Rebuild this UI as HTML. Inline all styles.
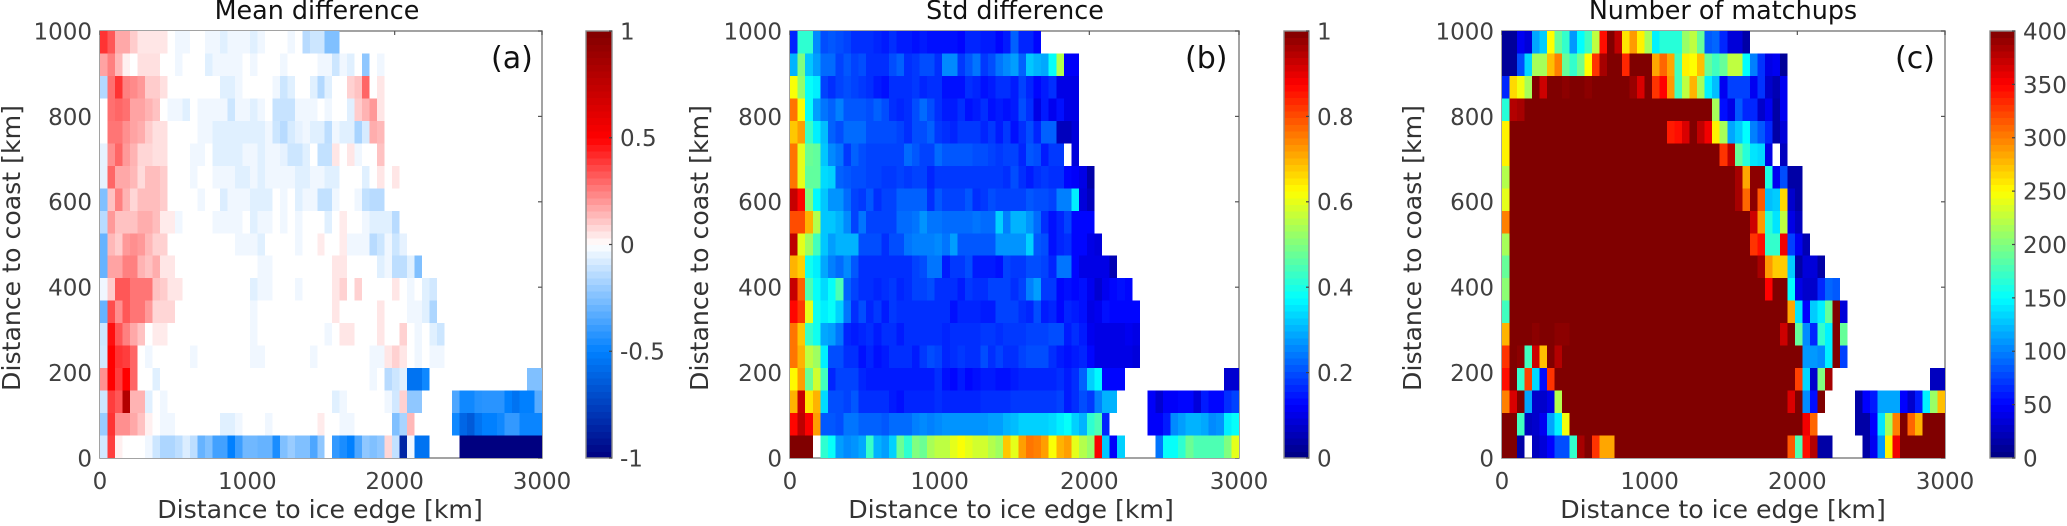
<!DOCTYPE html>
<html lang="en">
<head>
<meta charset="utf-8">
<title>Mean difference, std difference and number of matchups</title>
<style>
html,body{margin:0;padding:0;background:#fff;}
svg{display:block;}
text{font-family:"DejaVu Sans","Liberation Sans",sans-serif;}
.tick{font-size:23px;fill:#404040;}
.lab{font-size:25.2px;fill:#333;text-anchor:middle;}
.ttl{font-size:25.4px;fill:#111;text-anchor:middle;}
.tag{font-size:30px;fill:#111;}
</style>
</head>
<body>
<svg id="fig" xmlns="http://www.w3.org/2000/svg" width="2067" height="526" viewBox="0 0 2067 526">
  <rect x="0" y="0" width="2067" height="526" fill="#fff"/>
  <g id="pa"></g>
  <g id="pb"></g>
  <g id="pc"></g>
  <text class="ttl" x="317" y="19">Mean difference</text>
  <text class="ttl" x="1015" y="19">Std difference</text>
  <text class="ttl" x="1723" y="19">Number of matchups</text>
  <text class="tag" x="491" y="68">(a)</text>
  <text class="tag" x="1185" y="68">(b)</text>
  <text class="tag" x="1895" y="68">(c)</text>
  <text class="lab" x="320" y="518">Distance to ice edge [km]</text>
  <text class="lab" x="1011" y="518">Distance to ice edge [km]</text>
  <text class="lab" x="1723" y="518">Distance to ice edge [km]</text>
  <text class="lab" transform="translate(20,248) rotate(-90)">Distance to coast [km]</text>
  <text class="lab" transform="translate(708,248) rotate(-90)">Distance to coast [km]</text>
  <text class="lab" transform="translate(1421,248) rotate(-90)">Distance to coast [km]</text>
</svg>
<script>
const _ = null;
const xTicks = [0, 1000, 2000, 3000];
const yTicks = [0, 200, 400, 600, 800, 1000];
const xMax = 3000;
const yMax = 1000;
const cbarTicksA = [-1, -0.5, 0, 0.5, 1];
const cbarTicksB = [0, 0.2, 0.4, 0.6, 0.8, 1];
const cbarTicksC = [0, 50, 100, 150, 200, 250, 300, 350, 400];
/* Rows run from the top of each panel (farthest from coast) down to 0 km. Missing trailing cells are empty bins. */
const meanDiffRows = [
[.4,.33,.17,.17,.1,.05,.05,.05,.05,0, -.03,-.03,0,0,-.03,-.03,-.06,-.03,-.03,-.03, -.06,-.03,0,0,0,-.03,0,-.14,-.1,-.1, -.25,-.25],
[.18,.25,.14,.03,0,.06,.06,.06,0,0, -.03,0,0,0,-.06,-.03,-.03,-.03,-.03,0, -.03,0,0,0,-.03,0,0,0,0,-.03, -.03,-.1,-.03,-.06,0,-.22,0,-.03],
[-.15,.28,.4,.25,.23,.2,.1,.1,.06,0, 0,0,0,0,0,0,-.06,-.06,-.03,0, 0,0,0,-.03,-.1,-.06,0,0,-.06,-.15, -.06,0,0,.09,.12,.3,0,.05],
[0,.28,.3,.28,.18,.18,.15,.12,0,-.03, -.03,-.06,0,-.03,-.03,-.03,-.03,-.1,-.03,-.03, -.06,-.03,0,-.11,-.11,-.11,-.03,-.03,-.03,0, -.03,0,0,-.06,.1,.15,.2,.05],
[0,.27,.27,.22,.18,.16,.1,.06,.06,0, 0,0,0,-.03,-.03,-.06,-.06,-.06,-.06,-.06, -.06,-.06,-.03,-.1,-.14,-.08,-.05,-.03,-.06,-.06, -.13,-.03,-.06,-.06,-.17,-.08,.16,.14],
[-.05,.22,.3,.2,.15,.08,.08,.06,.06,0, 0,0,-.03,-.03,0,-.06,-.06,-.06,-.06,-.03, -.03,-.06,-.03,-.03,-.05,-.1,-.1,-.06,0,-.12, -.12,.05,0,.05,-.03,0,0,.12],
[-.05,.3,.17,.17,.14,.07,.13,.13,.1,0, 0,0,-.03,0,0,-.03,-.03,-.03,-.06,-.06, -.03,-.06,-.03,-.03,-.03,-.03,-.06,-.06,-.03,-.03, -.06,-.06,0,0,0,-.06,0,.05,0,.05],
[-.25,.12,.25,.15,.08,.13,.13,.13,.1,0, 0,0,0,-.03,0,0,-.07,-.03,-.03,-.03, -.06,-.06,-.06,0,-.03,0,-.06,-.03,-.03,-.12, -.12,-.03,0,0,-.03,-.12,-.14,-.14],
[-.14,.2,.12,.12,.12,.16,.16,.13,.04,.04, -.03,0,0,0,0,-.03,-.03,-.03,-.03,0, -.06,-.03,-.03,0,-.03,0,-.03,0,0,0, -.06,0,.04,0,0,-.03,-.06,-.06,-.06,-.14],
[-.3,.14,.1,.2,.22,.2,.14,.09,.09,0, 0,0,0,0,0,0,0,0,-.03,-.03, -.03,-.06,0,0,0,0,-.03,0,0,.04, 0,0,.04,-.03,-.03,-.03,-.14,-.1,-.03,-.1, -.05],
[-.3,.18,.18,.25,.25,.15,.12,.16,.05,.05, 0,0,0,0,0,0,0,0,0,0, 0,-.03,-.03,0,0,0,0,0,0,0, 0,.05,.05,0,0,0,0,-.06,-.03,-.13, -.13,-.06,-.25],
[-.03,.1,.33,.33,.27,.27,.27,.12,.1,.05, .05,0,0,0,0,0,0,0,0,0, -.06,-.03,-.03,0,0,0,-.03,0,0,0, 0,.05,.09,0,.09,0,0,0,0,.05, 0,-.03,0,-.06,-.09],
[-.3,.35,.22,.33,.27,.27,.2,.08,.08,.08, 0,0,0,0,0,0,0,0,0,0, -.03,0,0,0,0,0,0,0,0,0, 0,.05,0,0,0,0,0,.05,0,0, 0,-.03,-.03,-.06,-.16],
[-.1,.47,.33,.25,.17,.12,0,.04,.04,0, 0,0,0,0,0,0,0,0,0,0, -.03,0,0,0,0,0,0,0,0,0, -.03,0,.05,.05,0,0,0,.05,0,0, .09,0,-.03,0,-.06,-.1],
[-.09,.5,.4,.38,.3,0,-.03,0,0,0, 0,0,-.03,0,0,0,0,0,0,0, -.03,-.03,0,0,0,0,0,0,-.03,0, 0,0,0,0,0,0,-.03,-.03,.05,.09, .05,0,-.03,0,-.03,-.03],
[.22,.5,.38,.5,.3,0,0,-.06,0,0, 0,0,0,0,0,0,0,0,0,0, 0,0,0,0,0,0,0,0,0,0, 0,0,0,0,0,0,-.03,0,-.14,-.1, -.06,-.55,-.55,-.47,_,_,_,_,_,_, _,_,_,_,_,_,_,-.25,-.25],
[-.1,.38,.33,.8,.15,.15,-.06,0,-.03,0, 0,0,0,0,0,0,0,0,0,0, 0,0,0,0,0,0,0,0,0,0, 0,-.06,-.03,0,0,0,0,0,-.03,-.09, .09,-.22,-.22,_,_,_,_,-.35,-.47,-.47, -.43,-.42,-.42,-.42,-.5,-.55,-.5,-.5,-.33],
[-.2,.4,.22,.22,.17,.12,.03,0,-.03,-.03, 0,0,0,0,0,0,-.06,-.06,-.03,0, 0,0,-.03,0,0,0,0,0,0,.04, 0,0,-.03,-.03,0,0,0,0,0,-.25, -.17,.14,_,_,_,_,_,-.47,-.6,-.65, -.55,-.5,-.5,-.47,-.4,-.4,-.48,-.48,-.48],
[-.09,.38,.03,0,0,0,-.03,-.1,-.16,-.16, -.13,-.07,-.13,-.3,-.25,-.37,-.37,-.5,-.38,-.28, -.28,-.3,-.3,-.45,-.25,-.2,-.25,-.25,-.35,-.22, 0,-.4,-.45,-.5,-.35,-.22,-.25,-.22,.08,-.12, -.85,-.03,-.55,-.55,_,_,_,_,-1,-1, -1,-1,-1,-1,-1,-1,-1,-1,-1]
];
const stdDiffRows = [
[.16,.42,.42,.26,.2,.21,.2,.19,.17,.17, .17,.16,.15,.17,.15,.15,.14,.15,.14,.14, .14,.14,.13,.16,.16,.15,.15,.13,.15,.22, .16,.16,.13],
[.3,.5,.32,.28,.23,.23,.19,.21,.19,.2, .17,.17,.17,.2,.22,.17,.18,.2,.2,.17, .26,.26,.18,.21,.24,.18,.2,.24,.26,.28, .22,.32,.3,.29,.38,.55,.12,.12],
[.62,.52,.38,.36,.19,.17,.19,.2,.19,.18, .17,.15,.14,.17,.17,.17,.18,.16,.17,.17, .14,.14,.14,.17,.16,.14,.15,.17,.17,.15, .19,.16,.13,.15,.17,.1,.1,.1],
[.76,.62,.38,.28,.24,.22,.25,.21,.21,.21, .2,.22,.2,.17,.16,.17,.2,.23,.2,.17, .15,.15,.17,.14,.15,.17,.14,.15,.14,.15, .2,.17,.1,.15,.11,.14,.1,.1],
[.68,.72,.43,.36,.31,.22,.2,.23,.23,.23, .2,.2,.2,.2,.19,.17,.2,.2,.22,.18, .17,.16,.18,.18,.18,.16,.18,.15,.18,.14, .17,.2,.16,.22,.22,.06,.06,.09],
[.76,.6,.48,.47,.32,.26,.24,.18,.22,.2, .19,.19,.19,.19,.19,.23,.21,.19,.19,.23, .21,.21,.21,.21,.2,.2,.19,.18,.19,.19, .16,.21,.2,.15,.18,.18,_,.09],
[.76,.6,.47,.47,.34,.33,.22,.21,.2,.2, .19,.19,.18,.18,.19,.18,.19,.19,.16,.18, .18,.18,.18,.18,.18,.18,.18,.18,.17,.2, .17,.15,.17,.18,.17,.17,.13,.12,.1,.04],
[.93,.87,.5,.37,.32,.27,.27,.23,.19,.18, .21,.17,.19,.19,.22,.22,.22,.22,.17,.21, .19,.19,.19,.21,.17,.18,.2,.19,.19,.19, .19,.21,.2,.2,.19,.25,.25,.36,.09,.06],
[.8,.8,.7,.55,.32,.32,.3,.26,.19,.24, .19,.19,.19,.19,.23,.23,.24,.27,.24,.24, .23,.23,.23,.23,.24,.23,.23,.33,.25,.3, .3,.27,.23,.17,.14,.16,.19,.13,.13,.13],
[.94,.6,.53,.44,.32,.28,.3,.3,.3,.2, .2,.2,.17,.2,.2,.24,.25,.25,.25,.26, .24,.28,.21,.21,.21,.21,.21,.27,.27,.27, .27,.33,.21,.2,.14,.16,.17,.13,.13,.1, .09],
[.7,.67,.39,.36,.29,.25,.23,.26,.21,.17, .17,.17,.17,.17,.17,.17,.19,.2,.24,.24, .15,.18,.18,.2,.15,.15,.15,.14,.19,.18, .18,.2,.2,.19,.16,.24,.24,.13,.1,.1, .1,.1,.05],
[.93,.78,.45,.38,.34,.38,.45,.22,.19,.17, .17,.16,.17,.18,.16,.17,.19,.19,.2,.17, .17,.17,.15,.18,.17,.17,.19,.19,.19,.17, .19,.25,.28,.18,.18,.13,.14,.13,.14,.11, .08,.11,.13,.14,.13],
[.87,.82,.6,.39,.36,.38,.33,.24,.17,.2, .16,.18,.15,.18,.17,.17,.17,.17,.17,.17, .17,.14,.16,.16,.16,.15,.15,.19,.19,.19, .17,.16,.2,.15,.16,.13,.16,.15,.14,.1, .11,.14,.13,.13,.13,.13],
[.76,.68,.43,.39,.29,.28,.24,.16,.15,.16, .17,.15,.17,.17,.15,.17,.17,.17,.17,.17, .16,.17,.17,.17,.17,.18,.18,.17,.18,.18, .18,.19,.19,.19,.2,.2,.15,.17,.15,.11, .1,.1,.1,.1,.11,.1],
[.76,.7,.56,.53,.36,.2,.2,.17,.17,.14, .16,.14,.15,.17,.17,.17,.15,.18,.2,.19, .16,.17,.18,.17,.17,.2,.17,.19,.17,.17, .19,.2,.2,.2,.17,.15,.14,.15,.16,.13, .1,.1,.1,.1,.1,.09],
[.63,.72,.48,.58,.44,.16,.19,.19,.19,.16, .15,.15,.15,.15,.15,.15,.15,.15,.15,.17, .14,.13,.15,.13,.14,.15,.15,.14,.14,.15, .16,.16,.16,.16,.16,.17,.15,.17,.22,.33, .37,.13,.13,.13,_,_,_,_,_,_, _,_,_,_,_,_,_,.08,.08],
[.7,.93,.65,.7,.34,.2,.2,.19,.21,.17, .17,.17,.17,.15,.14,.16,.16,.16,.16,.17, .16,.16,.16,.16,.16,.17,.17,.17,.17,.18, .18,.18,.18,.18,.18,.19,.15,.17,.2,.18, .25,.3,.3,_,_,_,_,.12,.08,.12, .12,.13,.13,.09,.15,.13,.13,.17,.19],
[.87,.94,.88,.72,.21,.21,.2,.24,.24,.22, .22,.22,.21,.23,.23,.23,.25,.26,.25,.26, .27,.27,.27,.27,.27,.27,.28,.28,.3,.31, .33,.33,.33,.33,.34,.36,.38,.33,.3,.42, .45,.16,_,_,_,_,_,.12,.12,.15, .26,.28,.3,.3,.29,.26,.27,.36,.38],
[1,1,1,_,.42,.38,.28,.26,.27,.29, .43,.3,.28,.33,.48,.42,.5,.48,.54,.56, .56,.6,.62,.6,.58,.58,.55,.53,.68,.6, .72,.76,.75,.72,.62,.7,.72,.6,.55,.52, .88,.32,.12,.33,_,_,_,_,.24,.38, .38,.42,.48,.45,.45,.45,.45,.5,.6]
];
const matchupRows = [
[10,10,45,35,115,130,250,190,170,110, 150,175,225,345,400,375,260,290,255,215, 145,165,165,165,210,225,190,85,90,65, 35,35,15],
[10,10,80,135,215,215,275,300,190,170, 195,250,330,385,400,400,335,400,400,400, 285,310,285,175,255,250,275,190,175,190, 225,225,150,100,70,40,45,10],
[65,265,245,215,400,370,400,400,395,400, 400,395,400,400,400,400,400,390,365,400, 330,350,290,175,225,280,215,145,125,45, 75,75,75,45,70,30,20,45],
[165,380,385,400,400,400,400,400,400,400, 400,400,400,400,400,400,400,400,400,400, 400,400,400,400,400,400,400,400,215,55, 40,85,65,65,30,45,15,45],
[255,400,400,400,400,400,400,400,400,400, 400,400,400,400,400,400,400,400,400,400, 400,400,340,345,365,400,375,355,255,215, 115,130,150,100,85,65,15,35],
[255,400,400,400,400,400,400,400,400,400, 400,400,400,400,400,400,400,400,400,400, 400,400,400,400,400,400,400,400,400,330, 375,190,165,140,135,40,_,25],
[220,400,400,400,400,400,400,400,400,400, 400,400,400,400,400,400,400,400,400,400, 400,400,400,400,400,400,400,400,400,400, 400,385,285,395,395,160,45,80,15,15],
[240,400,400,400,400,400,400,400,400,400, 400,400,400,400,400,400,400,400,400,400, 400,400,400,400,400,400,400,400,400,400, 400,385,310,395,315,125,130,265,30,15],
[300,400,400,400,400,400,400,400,400,400, 400,400,400,400,400,400,400,400,400,400, 400,400,400,400,400,400,400,400,400,400, 400,400,400,370,290,165,140,225,40,25],
[215,400,400,400,400,400,400,400,400,400, 400,400,400,400,400,400,400,400,400,400, 400,400,400,400,400,400,400,400,400,400, 400,400,400,330,345,170,170,355,75,45, 20],
[190,400,400,400,400,400,400,400,400,400, 400,400,400,400,400,400,400,400,400,400, 400,400,400,400,400,400,400,400,400,400, 400,400,400,400,385,290,270,270,130,15, 35,35,15],
[205,400,400,400,400,400,400,400,400,400, 400,400,400,400,400,400,400,400,400,400, 400,400,400,400,400,400,400,400,400,400, 400,400,400,400,400,350,400,400,150,40, 30,30,65,90,85],
[175,400,400,400,400,400,400,400,400,400, 400,400,400,400,400,400,400,400,400,400, 400,400,400,400,400,400,400,400,400,400, 400,400,400,400,400,400,400,400,285,140, 50,130,145,190,400,35],
[280,400,400,400,395,400,400,395,395,400, 400,400,400,400,400,400,400,400,400,400, 400,400,400,400,400,400,400,400,400,400, 400,400,400,400,400,400,400,370,400,190, 105,65,170,145,400,190],
[330,400,395,175,370,275,400,380,400,400, 400,400,400,400,400,400,400,400,400,400, 400,400,400,400,400,400,400,400,400,400, 400,400,400,400,400,400,400,400,400,400, 110,110,105,145,400,75],
[345,400,170,325,135,55,330,400,400,400, 400,400,400,400,400,400,400,400,400,400, 400,400,400,400,400,400,400,400,400,400, 400,400,400,400,400,400,400,400,400,325, 135,30,200,385,_,_,_,_,_,_, _,_,_,_,_,_,_,25,25],
[300,365,400,115,30,30,40,220,400,400, 400,400,400,400,400,400,400,400,400,400, 400,400,400,400,400,400,400,400,400,400, 400,400,400,400,400,400,400,400,365,400, 105,55,400,_,_,_,_,15,50,60, 115,115,115,50,30,60,145,210,275],
[400,400,175,25,30,45,115,145,245,400, 400,400,400,400,400,400,400,400,400,400, 400,400,400,400,400,400,400,400,400,400, 400,400,400,400,400,400,400,400,400,400, 355,310,_,_,_,_,_,15,15,50, 140,215,300,400,310,280,400,400,400],
[400,400,15,_,25,35,50,80,80,170, 385,400,330,285,285,400,400,400,400,400, 400,400,400,400,400,400,400,400,400,400, 400,400,400,400,400,400,400,400,315,180, 345,380,15,15,_,_,_,_,15,45, 110,255,355,400,400,400,400,400,400]
];

const SVGNS = 'http://www.w3.org/2000/svg';
const axisTop = 31, axisBottom = 458;
const axisColor = '#8c8c8c';

function jet(v, lo, hi) {
  const t = Math.max(0, Math.min(1, (v - lo) / (hi - lo)));
  const ramp = function (center) { return Math.max(0, Math.min(1, 1.5 - Math.abs(4 * t - center))); };
  const r = ramp(3), g = ramp(2), b = ramp(1);
  return 'rgb(' + Math.round(r * 255) + ',' + Math.round(g * 255) + ',' + Math.round(b * 255) + ')';
}
function blueWhiteRed(v) {
  const t = Math.max(-1, Math.min(1, v));
  let r, g, b;
  if (t >= 0.5) { r = 255 - (t - 0.5) * 254; g = 0; b = 0; }
  else if (t >= 0) { r = 255; g = 255 - t * 510; b = g; }
  else if (t >= -0.5) { const k = -t / 0.5; r = 255 - 255 * k; g = 255 - 127 * k; b = 255; }
  else { const k = (-t - 0.5) / 0.5; r = 0; g = 128 - 128 * k; b = 255 - 127 * k; }
  return 'rgb(' + Math.round(r) + ',' + Math.round(g) + ',' + Math.round(b) + ')';
}
function svgEl(parent, tag, attrs) {
  const el = document.createElementNS(SVGNS, tag);
  for (const k in attrs) el.setAttribute(k, attrs[k]);
  parent.appendChild(el);
  return el;
}

function drawPanel(cfg) {
  const g = document.getElementById(cfg.id);
  const rows = cfg.rows;
  const nRows = rows.length;
  const nCols = 59;
  const xScale = function (v) { return cfg.left + (v / xMax) * (cfg.right - cfg.left); };
  const yScale = function (v) { return axisBottom - (v / yMax) * (axisBottom - axisTop); };
  const barY = function (v) { return axisBottom - ((v - cfg.lo) / (cfg.hi - cfg.lo)) * (axisBottom - axisTop); };

  const box = svgEl(g, 'rect', {x: cfg.left, y: axisTop, width: cfg.right - cfg.left, height: axisBottom - axisTop, fill: '#fff', stroke: axisColor, 'stroke-width': 1.6});
  
  

  xTicks.forEach(function (t) {
    const x = xScale(t);
    const top = svgEl(g, 'line', {x1: x, x2: x, y1: axisTop, y2: axisTop + 4, stroke: '#555', 'stroke-width': 1.2});
    
    
    const lbl = svgEl(g, 'text', {x: x, y: 489, 'text-anchor': 'middle', class: 'tick'});
    lbl.textContent = String(t);
    
    
  });
  yTicks.forEach(function (t) {
    const y = yScale(t);
    const mark = svgEl(g, 'line', {x1: cfg.right - 4, x2: cfg.right, y1: y, y2: y, stroke: '#555', 'stroke-width': 1.2});
    
    
    const lbl = svgEl(g, 'text', {x: cfg.left - 8, y: y + 8.4, 'text-anchor': 'end', class: 'tick'});
    lbl.textContent = String(t);
    
    
  });

  const cells = svgEl(g, 'g', {'shape-rendering': 'crispEdges'});
  
  
  for (let r = 0; r < nRows; r++) {
    for (let c = 0; c < nCols; c++) {
      const v = rows[r][c];
      if (v === null || v === undefined) continue;
      const xA = xScale(c * xMax / nCols), xB = xScale((c + 1) * xMax / nCols);
      const yA = yScale(yMax - r * yMax / nRows), yB = yScale(yMax - (r + 1) * yMax / nRows);
      const cell = svgEl(cells, 'rect', {x: xA, y: yA, width: xB - xA, height: yB - yA, fill: cfg.color(v)});
      
      
    }
  }

  const bar = svgEl(g, 'g', {'shape-rendering': 'crispEdges'});
  
  
  const levels = 64;
  for (let i = 0; i < levels; i++) {
    const a = cfg.lo + (i / levels) * (cfg.hi - cfg.lo);
    const b = cfg.lo + ((i + 1) / levels) * (cfg.hi - cfg.lo);
    const seg = svgEl(bar, 'rect', {x: cfg.barLeft, y: barY(b), width: cfg.barRight - cfg.barLeft, height: barY(a) - barY(b) + 0.5, fill: cfg.color((a + b) / 2)});
    
    
  }
  const barFrame = svgEl(g, 'rect', {x: cfg.barLeft, y: axisTop, width: cfg.barRight - cfg.barLeft, height: axisBottom - axisTop, fill: 'none', stroke: axisColor, 'stroke-width': 1.4});
  
  
  cfg.cbarTicks.forEach(function (t) {
    const y = barY(t);
    const mark = svgEl(g, 'line', {x1: cfg.barRight - 3, x2: cfg.barRight, y1: y, y2: y, stroke: '#444', 'stroke-width': 1.2});
    
    
    const lbl = svgEl(g, 'text', {x: cfg.barRight + 8, y: y + 8.4, class: 'tick'});
    lbl.textContent = String(t);
    
    
  });
}

drawPanel({id: 'pa', rows: meanDiffRows, left: 100, right: 542, lo: -1, hi: 1, barLeft: 586, barRight: 612, cbarTicks: cbarTicksA, color: blueWhiteRed});
drawPanel({id: 'pb', rows: stdDiffRows, left: 790, right: 1239, lo: 0, hi: 1, barLeft: 1284, barRight: 1309, cbarTicks: cbarTicksB, color: function (v) { return jet(v, 0, 1); }});
drawPanel({id: 'pc', rows: matchupRows, left: 1502, right: 1945, lo: 0, hi: 400, barLeft: 1990, barRight: 2015, cbarTicks: cbarTicksC, color: function (v) { return jet(v, 0, 400); }});
</script>
</body>
</html>
